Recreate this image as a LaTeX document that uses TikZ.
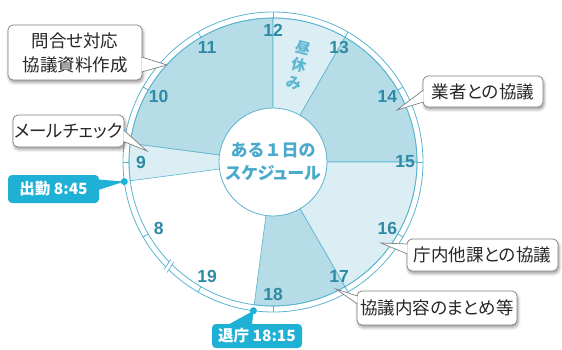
\documentclass[tikz,border=0pt]{standalone}
\usepackage{fontspec}
\setmainfont{Liberation Sans}
\newfontfamily\jp{Noto Sans CJK JP}[RawFeature=+palt]
\newfontfamily\jpf{Noto Sans CJK JP}
\usetikzlibrary{calc,shadows.blur}
\definecolor{ln}{HTML}{5BB4CF}
\definecolor{midc}{HTML}{B5DCE7}
\definecolor{litec}{HTML}{DBEEF4}
\definecolor{numc}{HTML}{2E8AA5}
\definecolor{ctxt}{HTML}{4BAACB}
\definecolor{lunchc}{HTML}{5DB7D2}
\definecolor{tagc}{HTML}{1FB0D6}
\definecolor{bdr}{HTML}{808080}
\tikzset{
  ringline/.style={draw=ln, line width=0.8pt},
  wedge/.style={draw=ln, line width=0.6pt},
  hourlbl/.style={text=numc, font=\bfseries\fontsize{17.5}{17.5}\selectfont, inner sep=0pt},
  callbox/.style={draw=bdr, fill=white, line width=0.7pt, rounded corners=5pt, inner sep=0pt, align=center,
    font=\jp\fontsize{17.5}{24}\selectfont, text=black!85,
    blur shadow={shadow xshift=1pt, shadow yshift=-2.5pt, shadow blur radius=3pt, shadow opacity=40}},
  ptrline/.style={draw=bdr, line width=0.7pt, line join=miter},
  timetag/.style={fill=tagc, rounded corners=4pt, inner sep=0pt, text=white, font=\jp\bfseries\fontsize{15.5}{18}\selectfont},
  lunchchar/.style={rotate=-15, text=lunchc, font=\jp\bfseries\fontsize{15}{15}\selectfont, inner sep=0pt},
}
\newcommand\mkptr[3]{\fill[white] (#1) -- (#2) -- (#3) -- cycle; \draw[ptrline] (#1) -- (#2) -- (#3);}
\newcommand\mksect[3]{\filldraw[wedge, fill=#3] (C) -- ($(C)+(#1:144pt)$) arc[start angle=#1, end angle=#2, radius=144pt] -- cycle;}
\begin{document}
\begin{tikzpicture}[x=1pt,y=1pt]
\useasboundingbox (0,0) rectangle (562,349);
\coordinate (C) at (273,187);
% sectors
\mksect{187.5}{172.5}{litec}
\mksect{172.5}{90}{midc}
\mksect{90}{60}{litec}
\mksect{60}{0}{midc}
\mksect{0}{-60}{litec}
\mksect{-60}{-97.5}{midc}
% ring
\draw[ringline] (C) circle (144pt);
\draw[ringline] (C) circle (150pt);
\foreach \h in {8,...,19}{
  \pgfmathsetmacro{\ang}{90-(\h-12)*30}
  \draw[ringline] ($(C)+(\ang:144pt)$) -- ($(C)+(\ang:150pt)$);
  \node[hourlbl] (h\h) at ($(C)+(\ang:132pt)$) {\h};
}
% break mark
\fill[white] ($(C)+(223.6:142pt)$) -- ($(C)+(224.6:152pt)$) -- ($(C)+(226.2:152pt)$) -- ($(C)+(225.2:142pt)$) -- cycle;
\draw[ln, line width=0.7pt] ($(C)+(223.6:141pt)$) -- ($(C)+(224.6:153pt)$);
\draw[ln, line width=0.7pt] ($(C)+(225.2:141pt)$) -- ($(C)+(226.2:153pt)$);
% centre
\node[circle, draw=ln, line width=0.8pt, fill=white, minimum size=108pt, inner sep=0pt, align=center,
  text=ctxt, font=\bfseries\fontsize{17}{23}\selectfont] (ctr) at (C) {\jpf ある１日の\\\jp スケジュール};
% lunch label, stacked vertically along a column tilted 15 degrees
\coordinate (lc) at ($(C)+(75:100pt)$);
\node[lunchchar] (l1) at ($(lc)+(4.7,17.6)$) {昼};
\node[lunchchar] (l2) at (lc) {休};
\node[lunchchar] (l3) at ($(lc)+(-4.7,-17.6)$) {み};
% callouts
\node[callbox, minimum width=134pt, minimum height=55pt] (c1) at (75,296.5) {問合せ対応\\協議資料作成};
\coordinate (t1) at (167,284);
\mkptr{$(c1.east)+(-0.8,-4.5)$}{t1}{$(c1.east)+(-0.8,-19.5)$}
\node[callbox, minimum width=111pt, minimum height=32pt] (c2) at (68.5,218) {メールチェック};
\coordinate (t2) at (147,198);
\mkptr{$(c2.east)+(-0.8,1)$}{t2}{$(c2.east)+(-0.8,-10.5)$}
\node[callbox, minimum width=120pt, minimum height=31pt] (c3) at (483,257.5) {業者との協議};
\coordinate (t3) at (397,239);
\mkptr{$(c3.west)+(0.8,1.5)$}{t3}{$(c3.west)+(0.8,-10.5)$}
\node[callbox, minimum width=151pt, minimum height=32pt] (c4) at (482.5,94) {庁内他課との協議};
\coordinate (t4) at (381,106);
\mkptr{$(c4.west)+(0.8,11)$}{t4}{$(c4.west)+(0.8,1)$}
\node[callbox, minimum width=160pt, minimum height=34pt] (c5) at (437,41) {協議内容のまとめ等};
\coordinate (t5) at (336,60);
\mkptr{$(c5.west)+(0.8,12)$}{t5}{$(c5.west)+(0.8,4)$}
% time tags
\coordinate (d1) at ($(C)+(187.5:150pt)$);
\coordinate (d2) at ($(C)+(-97.5:150pt)$);
\node[timetag, minimum width=91pt, minimum height=28pt] (g1) at (53.5,160) {出勤 8:45};
\fill[tagc] ($(g1.east)+(-1,9.5)$) -- (d1) -- ($(g1.east)+(-1,-1)$) -- cycle;
\node[timetag, minimum width=90pt, minimum height=24pt] (g2) at (257,13) {退庁 18:15};
\fill[tagc] ($(g2.north)+(-29,-1)$) -- (d2) -- ($(g2.north)+(-5,-1)$) -- cycle;
\fill[tagc] (d1) circle (3.5pt);
\fill[tagc] (d2) circle (3.5pt);
\end{tikzpicture}
\end{document}
